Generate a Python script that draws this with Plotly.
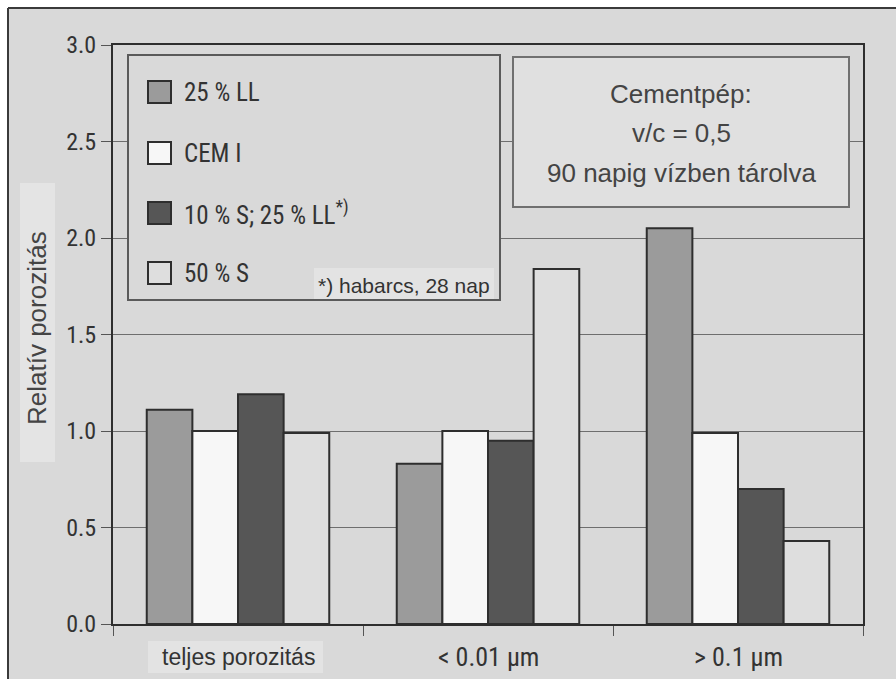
import plotly.graph_objects as go

categories = ["teljes porozitás", "< 0.01 µm", "> 0.1 µm"]
series_names = ["25 % LL", "CEM I", "10 % S; 25 % LL<sup>*)</sup>", "50 % S"]
values_ll25 = [1.11, 0.83, 2.05]
values_cem1 = [1.00, 1.00, 0.99]
values_s10_ll25 = [1.19, 0.95, 0.70]
values_s50 = [0.99, 1.84, 0.43]
series_values = [values_ll25, values_cem1, values_s10_ll25, values_s50]
y_ticks = [0.0, 0.5, 1.0, 1.5, 2.0, 2.5, 3.0]
y_ticklabels = ["0.0", "0.5", "1.0", "1.5", "2.0", "2.5", "3.0"]
info_lines = ["Cementpép:", "v/c = 0,5", "90 napig vízben tárolva"]
footnote = "*) habarcs, 28 nap"
y_title = "Relatív porozitás"

colors = ["#9b9b9b", "#f7f7f7", "#565656", "#dedede"]
BG = "#d9d9d9"
COND = "Liberation Sans Narrow, Roboto Condensed, Arial Narrow, sans-serif"
SANS = "Liberation Sans, Arial, sans-serif"

W, H = 896, 679
L, R, T, B = 113, 863, 45, 624


def px(x):
    return (x - L) / (R - L)


def py(y):
    return (B - y) / (B - T)


fig = go.Figure()
for name, vals, col in zip(series_names, series_values, colors):
    fig.add_trace(go.Bar(
        x=categories, y=vals, name=name, showlegend=False,
        marker=dict(color=col, line=dict(color="#2e2e2e", width=2)),
    ))

shapes = []
annotations = []

# background frame
shapes.append(dict(type="rect", xref="paper", yref="paper", layer="below",
                   x0=px(8), x1=px(900), y0=py(8), y1=py(684),
                   fillcolor=BG, line=dict(width=0)))
shapes.append(dict(type="line", xref="paper", yref="paper", layer="below",
                   x0=px(8), x1=px(8), y0=py(8), y1=py(684),
                   line=dict(color="#3a3a3a", width=2)))
shapes.append(dict(type="line", xref="paper", yref="paper", layer="below",
                   x0=px(8), x1=px(900), y0=py(8), y1=py(8),
                   line=dict(color="#3a3a3a", width=2)))

# y title box
shapes.append(dict(type="rect", xref="paper", yref="paper", layer="below",
                   x0=px(20), x1=px(55), y0=py(183), y1=py(462),
                   fillcolor="#e4e4e4", line=dict(width=0)))
# x label box for first category
shapes.append(dict(type="rect", xref="paper", yref="paper", layer="below",
                   x0=px(148), x1=px(323), y0=py(641), y1=py(673),
                   fillcolor="#e3e3e3", line=dict(width=0)))

# legend box
shapes.append(dict(type="rect", xref="paper", yref="paper",
                   x0=px(128), x1=px(500), y0=py(55), y1=py(300),
                   fillcolor=BG, line=dict(color="#5a5a5a", width=2)))
leg_y = [92, 153, 213, 273]
for name, col, yc in zip(series_names, colors, leg_y):
    shapes.append(dict(type="rect", xref="paper", yref="paper",
                       x0=px(148), x1=px(171), y0=py(yc - 11), y1=py(yc + 11),
                       fillcolor=col, line=dict(color="#2e2e2e", width=2)))
    annotations.append(dict(xref="paper", yref="paper", x=px(182), y=py(yc),
                            xanchor="left", yanchor="middle", showarrow=False,
                            text=name, font=dict(family=COND, size=25, color="#333")))
# footnote box
shapes.append(dict(type="rect", xref="paper", yref="paper",
                   x0=px(314), x1=px(494), y0=py(268), y1=py(299),
                   fillcolor="#e3e3e3", line=dict(width=0)))
annotations.append(dict(xref="paper", yref="paper", x=px(404), y=py(285),
                        xanchor="center", yanchor="middle", showarrow=False,
                        text=footnote,
                        font=dict(family=SANS, size=21, color="#333")))

# info box
shapes.append(dict(type="rect", xref="paper", yref="paper",
                   x0=px(513), x1=px(849), y0=py(57), y1=py(207),
                   fillcolor="#e0e0e0", line=dict(color="#707070", width=2)))
for line_txt, yc in zip(info_lines, [94, 133, 173]):
    annotations.append(dict(xref="paper", yref="paper", x=px(681), y=py(yc),
                            xanchor="center", yanchor="middle", showarrow=False,
                            text=line_txt, font=dict(family=SANS, size=26, color="#444")))

# y axis title
annotations.append(dict(xref="paper", yref="paper", x=px(37), y=py(328),
                        xanchor="center", yanchor="middle", showarrow=False,
                        text=y_title, textangle=-90,
                        font=dict(family=SANS, size=26, color="#444")))

# x category labels
for i, cat in enumerate(categories):
    if i == 0:
        annotations.append(dict(xref="x", yref="paper", x=cat, y=py(657),
                                xanchor="center", yanchor="middle", showarrow=False,
                                text=cat,
                                font=dict(family=SANS, size=23, color="#333")))
    else:
        annotations.append(dict(xref="x", yref="paper", x=cat, y=py(657),
                                xanchor="center", yanchor="middle", showarrow=False,
                                text=cat, font=dict(family=COND, size=26, color="#333")))

fig.update_layout(
    width=W, height=H,
    margin=dict(l=L, r=W - R, t=T, b=H - B),
    paper_bgcolor="white", plot_bgcolor=BG,
    barmode="group", bargap=0.27, bargroupgap=0,
    shapes=shapes, annotations=annotations,
    showlegend=False,
    xaxis=dict(type="category", range=[-0.5, 2.5], showticklabels=False,
               ticks="outside", tickson="boundaries", ticklen=10, tickcolor="#555",
               showline=True, linecolor="#2e2e2e", linewidth=2, mirror=True,
               showgrid=False, zeroline=False),
    yaxis=dict(range=[0, 3], tickvals=y_ticks, ticktext=y_ticklabels,
               ticks="outside", ticklen=10, tickcolor="#555",
               tickfont=dict(family=COND, size=24, color="#333"),
               showline=True, linecolor="#2e2e2e", linewidth=2, mirror=True,
               showgrid=True, gridcolor="#6e6e6e", gridwidth=1.3,
               zeroline=False),
)

fig.write_html("out.html")
